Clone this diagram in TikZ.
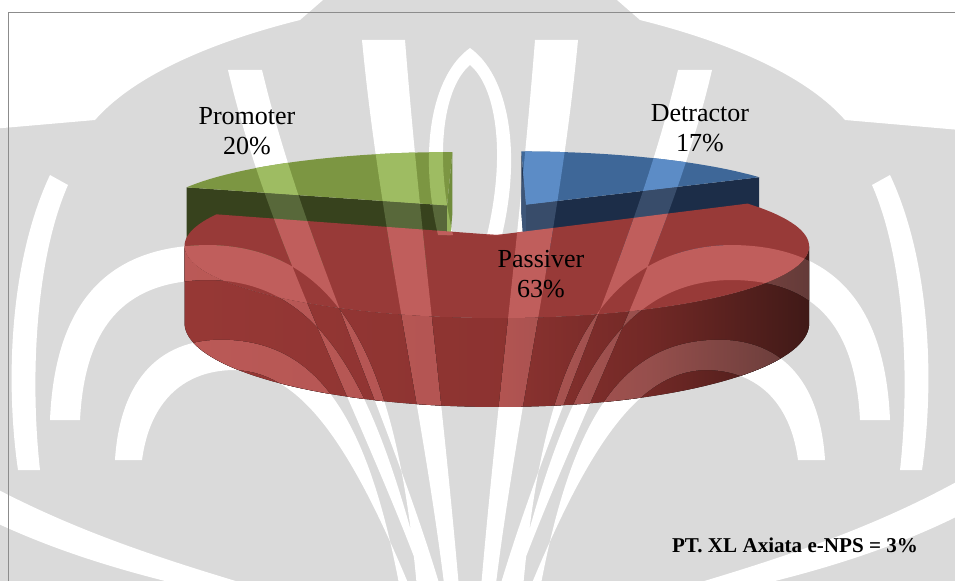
\documentclass[tikz,border=0pt]{standalone}
\usepackage{fontspec}
\setmainfont{Liberation Serif}
\begin{document}
% projection parameters of the exploded 3D pie (screen units = px)
\newcommand\pieP{0.15}   % perspective strength
\newcommand\pieE{0.25}   % explode distance
\newcommand\pieSX{297}
\newcommand\pieSY{75.8}
\newcommand\pieH{72.3}   % slice thickness
\newcommand\pieCX{489.4}
\newcommand\pieCY{290.5}
% slice colours: plain tone (D) and the lighter tone seen through the white bands (L)
\definecolor{gTopD}{RGB}{124,150,66}   \definecolor{gTopL}{RGB}{158,188,98}
\definecolor{gCutD}{RGB}{55,66,29}     \definecolor{gCutL}{RGB}{88,104,58}
\definecolor{gEdgeD}{RGB}{112,140,60}  \definecolor{gEdgeL}{RGB}{150,180,92}
\definecolor{bTopD}{RGB}{62,103,152}   \definecolor{bTopL}{RGB}{92,140,198}
\definecolor{bCutD}{RGB}{28,45,72}     \definecolor{bCutL}{RGB}{56,76,106}
\definecolor{bEdgeD}{RGB}{34,54,84}    \definecolor{bEdgeL}{RGB}{62,86,120}
\definecolor{rTopD}{RGB}{152,58,56}    \definecolor{rTopL}{RGB}{192,94,92}
\definecolor{frameGray}{RGB}{140,140,140}
\definecolor{wmGray}{RGB}{218,218,218}
\pgfdeclarehorizontalshading{redwallD}{100bp}{%
  rgb(0bp)=(0.59,0.22,0.21); rgb(25bp)=(0.59,0.22,0.21);
  rgb(50bp)=(0.55,0.20,0.19); rgb(62bp)=(0.45,0.16,0.15);
  rgb(75bp)=(0.25,0.10,0.09); rgb(100bp)=(0.25,0.10,0.09)}
\pgfdeclarehorizontalshading{redwallL}{100bp}{%
  rgb(0bp)=(0.73,0.35,0.34); rgb(25bp)=(0.73,0.35,0.34);
  rgb(50bp)=(0.70,0.33,0.32); rgb(62bp)=(0.59,0.31,0.30);
  rgb(75bp)=(0.39,0.23,0.22); rgb(100bp)=(0.39,0.23,0.22)}
% white bands of the watermark; #1 is empty (left half) or "940-" (mirrored half)
\newcommand\gaps[1]{%
  ({#1 -20},-5) -- ({#1 323},-5) -- ({#1 323},0) -- ({#1 300},20)
    .. controls ({#1 200},45) and ({#1 130},80) .. ({#1 95},120)
    -- ({#1 -20},130) -- cycle
  % steep spoke
  ({#1 446},600) .. controls ({#1 425},420) and ({#1 380},230) .. ({#1 362},40)
    -- ({#1 405},40) .. controls ({#1 420},230) and ({#1 445},420) .. ({#1 460},600) -- cycle
  % medium spoke
  ({#1 430},600) .. controls ({#1 370},430) and ({#1 270},250) .. ({#1 228},70)
    -- ({#1 262},70) .. controls ({#1 305},250) and ({#1 392},420) .. ({#1 444},600) -- cycle
  % upper fountain curl
  ({#1 418},600) .. controls ({#1 400},380) and ({#1 350},248) .. ({#1 210},245)
    .. controls ({#1 110},245) and ({#1 55},300) .. ({#1 50},420)
    -- ({#1 80},420) .. controls ({#1 85},320) and ({#1 130},280) .. ({#1 210},280)
    .. controls ({#1 330},282) and ({#1 380},400) .. ({#1 429},600) -- cycle
  % lower fountain curl
  ({#1 402},600) .. controls ({#1 370},420) and ({#1 320},345) .. ({#1 230},340)
    .. controls ({#1 160},336) and ({#1 120},380) .. ({#1 115},460)
    -- ({#1 142},460) .. controls ({#1 150},400) and ({#1 185},370) .. ({#1 235},370)
    .. controls ({#1 300},372) and ({#1 350},440) .. ({#1 415},600) -- cycle
  % outer swirl along the side
  ({#1 18},470) .. controls ({#1 5},380) and ({#1 10},260) .. ({#1 50},175)
    -- ({#1 68},185) .. controls ({#1 35},260) and ({#1 30},380) .. ({#1 40},470) -- cycle
  % low diagonal
  ({#1 -20},480) .. controls ({#1 80},535) and ({#1 180},565) .. ({#1 300},600)
    -- ({#1 250},600) .. controls ({#1 150},580) and ({#1 60},555) .. ({#1 -20},515) -- cycle
  % inner arch at the top
  ({#1 438},235) .. controls ({#1 418},150) and ({#1 432},75) .. ({#1 470},48)
    -- ({#1 470},65) .. controls ({#1 445},86) and ({#1 433},150) .. ({#1 453},235) -- cycle
}
% the three slices, drawn back to front with the given tone
\newcommand\drawpie[1]{%
  \fill[gCut#1,facet] (gAt) -- (gLt) -- (gLb) -- (gAb) -- cycle;
  \fill[gEdge#1,facet] (gAt) -- (gBt) -- (gBb) -- (gAb) -- cycle;
  \fill[gTop#1,facet] (gAt) -- (gLt)
    -- plot[domain=288:360,samples=40,variable=\t] ({pieX(\t,1,324)},{pieY(\t,1,324,1)}) -- cycle;
  \fill[bEdge#1,facet] (bAt) -- (bBt) -- (bBb) -- (bAb) -- cycle;
  \fill[bCut#1,facet] (bAt) -- (bRt) -- (bRb) -- (bAb) -- cycle;
  \fill[bTop#1,facet] (bAt) -- (bBt)
    -- plot[domain=0:61.2,samples=40,variable=\t] ({pieX(\t,1,30.6)},{pieY(\t,1,30.6,1)}) -- cycle;
  \fill[shading=redwall#1,facet]
    plot[domain=99.2:260.8,samples=80,variable=\t] ({pieX(\t,1,174.6)},{pieY(\t,1,174.6,1)})
    -- plot[domain=260.8:99.2,samples=80,variable=\t] ({pieX(\t,1,174.6)},{pieY(\t,1,174.6,0)})
    -- cycle;
  \fill[rTop#1,facet] (rAt)
    -- plot[domain=61.2:288,samples=100,variable=\t] ({pieX(\t,1,174.6)},{pieY(\t,1,174.6,1)}) -- cycle;
}
\begin{tikzpicture}[x=0.02cm,y=-0.02cm,
  declare function={
    pieZ(\t,\r,\b)=\r*cos(\t)+\pieE*cos(\b);
    pieW(\t,\r,\b)=\r*sin(\t)+\pieE*sin(\b);
    pieK(\t,\r,\b)=1/(1+\pieP*pieZ(\t,\r,\b));
    pieX(\t,\r,\b)=\pieCX+\pieSX*pieW(\t,\r,\b)*pieK(\t,\r,\b);
    pieY(\t,\r,\b,\u)=\pieCY-(\pieSY*pieZ(\t,\r,\b)+\pieH*\u)*pieK(\t,\r,\b);
  },
  label/.style={font=\fontsize{14.8pt}{17pt}\selectfont, align=center, inner sep=0pt},
  facet/.style={line join=round}]
\useasboundingbox (0,0) rectangle (955,581);

% --- watermark background ---
\fill[wmGray] (0,0) rectangle (955,581);
\begin{scope}
  \clip (0,0) rectangle (955,581);
  \fill[white] \gaps{} \gaps{940-};
\end{scope}

% --- corner points of the slices ---
\coordinate (gAt) at ({pieX(0,0,324)},{pieY(0,0,324,1)});
\coordinate (gAb) at ({pieX(0,0,324)},{pieY(0,0,324,0)});
\coordinate (gLt) at ({pieX(288,1,324)},{pieY(288,1,324,1)});
\coordinate (gLb) at ({pieX(288,1,324)},{pieY(288,1,324,0)});
\coordinate (gBt) at ({pieX(360,1,324)},{pieY(360,1,324,1)});
\coordinate (gBb) at ({pieX(360,1,324)},{pieY(360,1,324,0)});
\coordinate (bAt) at ({pieX(0,0,30.6)},{pieY(0,0,30.6,1)});
\coordinate (bAb) at ({pieX(0,0,30.6)},{pieY(0,0,30.6,0)});
\coordinate (bBt) at ({pieX(0,1,30.6)},{pieY(0,1,30.6,1)});
\coordinate (bBb) at ({pieX(0,1,30.6)},{pieY(0,1,30.6,0)});
\coordinate (bRt) at ({pieX(61.2,1,30.6)},{pieY(61.2,1,30.6,1)});
\coordinate (bRb) at ({pieX(61.2,1,30.6)},{pieY(61.2,1,30.6,0)});
\coordinate (rAt) at ({pieX(0,0,174.6)},{pieY(0,0,174.6,1)});

% --- pie: plain tone, then the lighter tone inside the white bands ---
\drawpie{D}
\begin{scope}
  \clip \gaps{} \gaps{940-};
  \drawpie{L}
\end{scope}

% --- frame ---
\draw[frameGray,line width=0.9pt] (8.5,581) -- (8.5,12.5) -- (955,12.5);

% --- labels ---
\node[label] (promoter) at (247,131.5) {Promoter\\20\%};
\node[label] (detractor) at (700,128.5) {Detractor\\17\%};
\node[label] (passiver) at (541,274) {Passiver\\63\%};
\node[font=\fontsize{12pt}{14pt}\selectfont\bfseries, anchor=base, inner sep=0pt] (nps)
  at (795,552) {PT. XL Axiata e-NPS = 3\%};
\end{tikzpicture}
\end{document}
